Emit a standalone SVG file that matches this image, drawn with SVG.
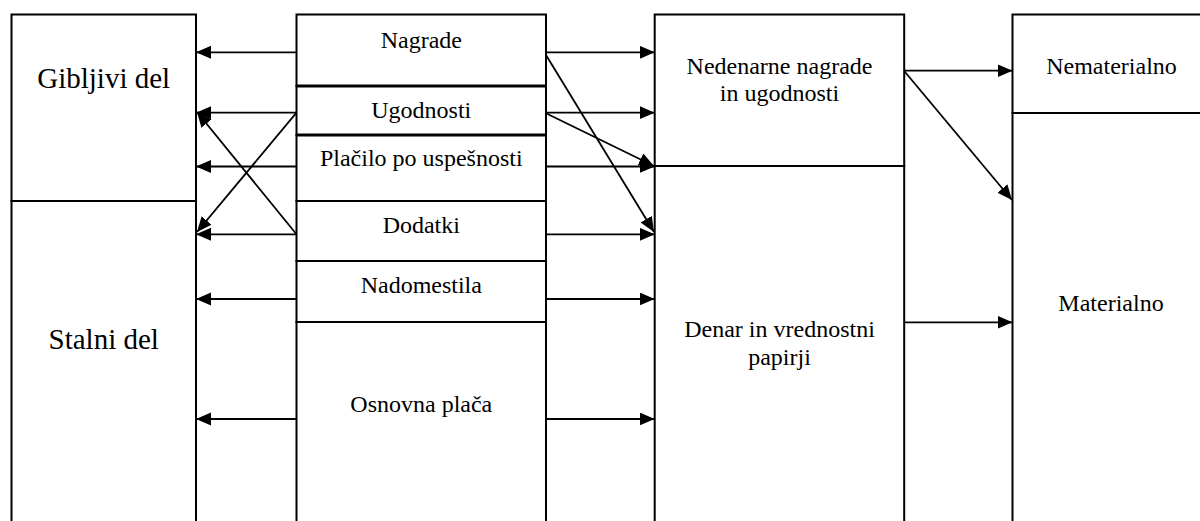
<svg xmlns="http://www.w3.org/2000/svg" width="1200" height="521" viewBox="0 0 1200 521">
  <defs>
    <style>
      .box { fill: #ffffff; stroke: #000000; stroke-width: 2; }
      .sep { stroke: #000000; stroke-width: 2.8; fill: none; }
      .lbl { font-family: "Liberation Serif", "Times New Roman", serif; font-size: 24px; fill: #000000; text-anchor: middle; }
      .big { font-size: 29px; }
      .conn line { stroke: #000000; stroke-width: 1.8; marker-end: url(#head); }
    </style>
    <marker id="head" markerUnits="userSpaceOnUse" markerWidth="16" markerHeight="14" refX="15" refY="6.5" orient="auto">
      <path d="M0,0 L15,6.5 L0,13 Z" fill="#000000"/>
    </marker>
  </defs>
  <rect width="1200" height="521" fill="#ffffff"/>

  <!-- left column: variable / fixed part -->
  <g id="gibljivi">
    <rect class="box" x="11.5" y="14.5" width="184.5" height="186.5"/>
    <text class="lbl big" x="103.7" y="88">Gibljivi del</text>
  </g>
  <g id="stalni">
    <rect class="box" x="11.5" y="201" width="184.5" height="340"/>
    <text class="lbl big" x="103.7" y="349">Stalni del</text>
  </g>

  <!-- middle column: pay components -->
  <g id="nagrade">
    <rect class="box" x="296.5" y="14.5" width="249.5" height="71.5"/>
    <text class="lbl" x="421.3" y="47.5">Nagrade</text>
  </g>
  <g id="ugodnosti">
    <rect class="box" x="296.5" y="86" width="249.5" height="49"/>
    <text class="lbl" x="421.3" y="118">Ugodnosti</text>
  </g>
  <g id="placilo">
    <rect class="box" x="296.5" y="135" width="249.5" height="66"/>
    <text class="lbl" x="421.3" y="166">Plačilo po uspešnosti</text>
  </g>
  <g id="dodatki">
    <rect class="box" x="296.5" y="201" width="249.5" height="60"/>
    <text class="lbl" x="421.3" y="233">Dodatki</text>
  </g>
  <g id="nadomestila">
    <rect class="box" x="296.5" y="261" width="249.5" height="61"/>
    <text class="lbl" x="421.3" y="292.5">Nadomestila</text>
  </g>
  <g id="osnovna">
    <rect class="box" x="296.5" y="322" width="249.5" height="220"/>
    <text class="lbl" x="421.3" y="411.5">Osnovna plača</text>
  </g>
  <line class="sep" x1="296.5" y1="86" x2="546" y2="86"/>
  <line class="sep" x1="296.5" y1="135" x2="546" y2="135"/>

  <!-- third column: form of reward -->
  <g id="nedenarne">
    <rect class="box" x="654.7" y="14.5" width="249.5" height="151.5"/>
    <text class="lbl" x="779.5" y="74">Nedenarne nagrade</text>
    <text class="lbl" x="779.5" y="101">in ugodnosti</text>
  </g>
  <g id="denar">
    <rect class="box" x="654.7" y="166" width="249.5" height="376"/>
    <text class="lbl" x="779.5" y="337">Denar in vrednostni</text>
    <text class="lbl" x="779.5" y="365">papirji</text>
  </g>

  <!-- right column: nature of reward -->
  <g id="nematerialno">
    <rect class="box" x="1012.5" y="14.5" width="210" height="98.5"/>
    <text class="lbl" x="1111.5" y="74">Nematerialno</text>
  </g>
  <g id="materialno">
    <rect class="box" x="1012.5" y="113" width="210" height="429"/>
    <text class="lbl" x="1111" y="310.5">Materialno</text>
  </g>

  <!-- connectors -->
  <g id="connectors" class="conn">
    <!-- towards the variable / fixed part -->
    <line x1="296.5" y1="52.3" x2="196" y2="52.3"/>
    <line x1="296.5" y1="112.7" x2="196" y2="112.7"/>
    <line x1="296.5" y1="166.5" x2="196" y2="166.5"/>
    <line x1="296.5" y1="234.3" x2="196" y2="234.3"/>
    <line x1="296.5" y1="299" x2="196" y2="299"/>
    <line x1="296.5" y1="419" x2="196" y2="419"/>
    <line x1="296.5" y1="112.7" x2="197" y2="232"/>
    <line x1="296.5" y1="234.3" x2="197" y2="112"/>

    <!-- towards the form of reward -->
    <line x1="546" y1="52.3" x2="654.7" y2="52.3"/>
    <line x1="546" y1="112.7" x2="654.7" y2="112.7"/>
    <line x1="546" y1="166.5" x2="654.7" y2="166.5"/>
    <line x1="546" y1="234.3" x2="654.7" y2="234.3"/>
    <line x1="546" y1="299" x2="654.7" y2="299"/>
    <line x1="546" y1="419" x2="654.7" y2="419"/>
    <line x1="546" y1="55" x2="654" y2="232"/>
    <line x1="546" y1="113.3" x2="654" y2="166"/>

    <!-- towards the nature of reward -->
    <line x1="904.2" y1="70.7" x2="1012.5" y2="70.7"/>
    <line x1="904.2" y1="71" x2="1012" y2="200"/>
    <line x1="904.2" y1="322.3" x2="1012.5" y2="322.3"/>
  </g>
</svg>
